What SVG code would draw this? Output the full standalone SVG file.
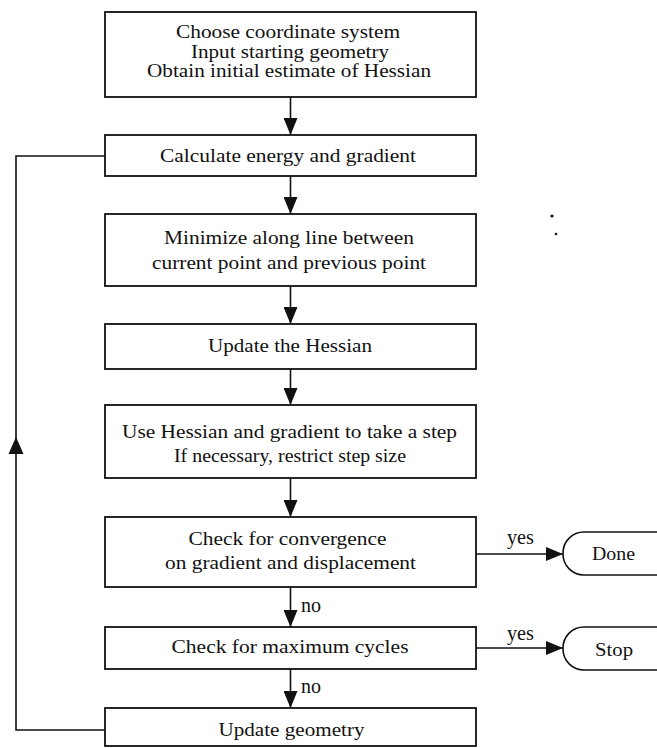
<svg xmlns="http://www.w3.org/2000/svg" width="657" height="748" viewBox="0 0 657 748">
<style>
.box{fill:#fff;stroke:#111;stroke-width:1.8}
.term{fill:#fff;stroke:#111;stroke-width:1.6}
.t{font-family:"Liberation Serif","Times New Roman",serif;font-size:19px;fill:#111;text-anchor:middle}
.l{font-family:"Liberation Serif","Times New Roman",serif;font-size:20px;fill:#111}
.c{fill:none;stroke:#111;stroke-width:1.6}
</style>
<defs>
<marker id="ah" viewBox="0 0 17 14" refX="17" refY="7" markerWidth="17" markerHeight="14" markerUnits="userSpaceOnUse" orient="auto">
<path d="M0,0 L17,7 L0,14 Z" fill="#111"/>
</marker>
</defs>
<rect width="657" height="748" fill="#fff"/>
<g id="connectors">
<line class="c" x1="290.5" y1="97" x2="290.5" y2="135" marker-end="url(#ah)"/>
<line class="c" x1="290.5" y1="176" x2="290.5" y2="214" marker-end="url(#ah)"/>
<line class="c" x1="290.5" y1="286" x2="290.5" y2="324" marker-end="url(#ah)"/>
<line class="c" x1="290.5" y1="369" x2="290.5" y2="405" marker-end="url(#ah)"/>
<line class="c" x1="290.5" y1="478" x2="290.5" y2="517" marker-end="url(#ah)"/>
<line class="c" x1="290.5" y1="587" x2="290.5" y2="627" marker-end="url(#ah)"/>
<line class="c" x1="290.5" y1="669" x2="290.5" y2="708" marker-end="url(#ah)"/>
<line class="c" x1="476" y1="554" x2="563" y2="554" marker-end="url(#ah)"/>
<line class="c" x1="476" y1="648" x2="563" y2="648" marker-end="url(#ah)"/>
<path class="c" d="M105,730 H16 V156 H105"/>
<path d="M16,437 L23.5,454 L8.5,454 Z" fill="#111"/>
<text class="l" x="301" y="612">no</text>
<text class="l" x="301" y="693">no</text>
<text class="l" x="507" y="544" textLength="27" lengthAdjust="spacingAndGlyphs">yes</text>
<text class="l" x="507" y="640" textLength="27" lengthAdjust="spacingAndGlyphs">yes</text>
</g>
<g id="n1">
<rect class="box" x="105" y="12" width="371" height="85"/>
<text class="t" x="288" y="38" textLength="224" lengthAdjust="spacingAndGlyphs">Choose coordinate system</text>
<text class="t" x="290" y="57.5" textLength="198" lengthAdjust="spacingAndGlyphs">Input starting geometry</text>
<text class="t" x="289" y="77" textLength="284" lengthAdjust="spacingAndGlyphs">Obtain initial estimate of Hessian</text>
</g>
<g id="n2">
<rect class="box" x="105" y="135" width="371" height="41"/>
<text class="t" x="288" y="161.5" textLength="256" lengthAdjust="spacingAndGlyphs">Calculate energy and gradient</text>
</g>
<g id="n3">
<rect class="box" x="105" y="214" width="371" height="72"/>
<text class="t" x="289" y="244" textLength="250" lengthAdjust="spacingAndGlyphs">Minimize along line between</text>
<text class="t" x="289" y="269" textLength="274" lengthAdjust="spacingAndGlyphs">current point and previous point</text>
</g>
<g id="n4">
<rect class="box" x="105" y="324" width="371" height="45"/>
<text class="t" x="290" y="351.5" textLength="164" lengthAdjust="spacingAndGlyphs">Update the Hessian</text>
</g>
<g id="n5">
<rect class="box" x="105" y="405" width="371" height="73"/>
<text class="t" x="289.5" y="437.5" textLength="335" lengthAdjust="spacingAndGlyphs">Use Hessian and gradient to take a step</text>
<text class="t" x="290" y="461.5" textLength="232" lengthAdjust="spacingAndGlyphs">If necessary, restrict step size</text>
</g>
<g id="n6">
<rect class="box" x="105" y="517" width="371" height="70"/>
<text class="t" x="287.5" y="545" textLength="198" lengthAdjust="spacingAndGlyphs">Check for convergence</text>
<text class="t" x="290.5" y="568.5" textLength="251" lengthAdjust="spacingAndGlyphs">on gradient and displacement</text>
</g>
<g id="n7">
<rect class="box" x="105" y="627" width="371" height="42"/>
<text class="t" x="290" y="652.5" textLength="237" lengthAdjust="spacingAndGlyphs">Check for maximum cycles</text>
</g>
<g id="n8">
<rect class="box" x="105" y="708" width="371" height="38"/>
<text class="t" x="291.5" y="735.5" textLength="146" lengthAdjust="spacingAndGlyphs">Update geometry</text>
</g>
<g id="done">
<rect class="term" x="563" y="532" width="120" height="43" rx="21" ry="21"/>
<text class="t" x="613.5" y="559.5" textLength="43" lengthAdjust="spacingAndGlyphs">Done</text>
</g>
<g id="stop">
<rect class="term" x="563" y="627" width="120" height="43" rx="21" ry="21"/>
<text class="t" x="614" y="655.5" textLength="38" lengthAdjust="spacingAndGlyphs">Stop</text>
</g>
<g id="specks">
<circle cx="552" cy="216" r="1.6" fill="#111"/>
<circle cx="556" cy="234" r="1.3" fill="#111"/>
</g>
</svg>
